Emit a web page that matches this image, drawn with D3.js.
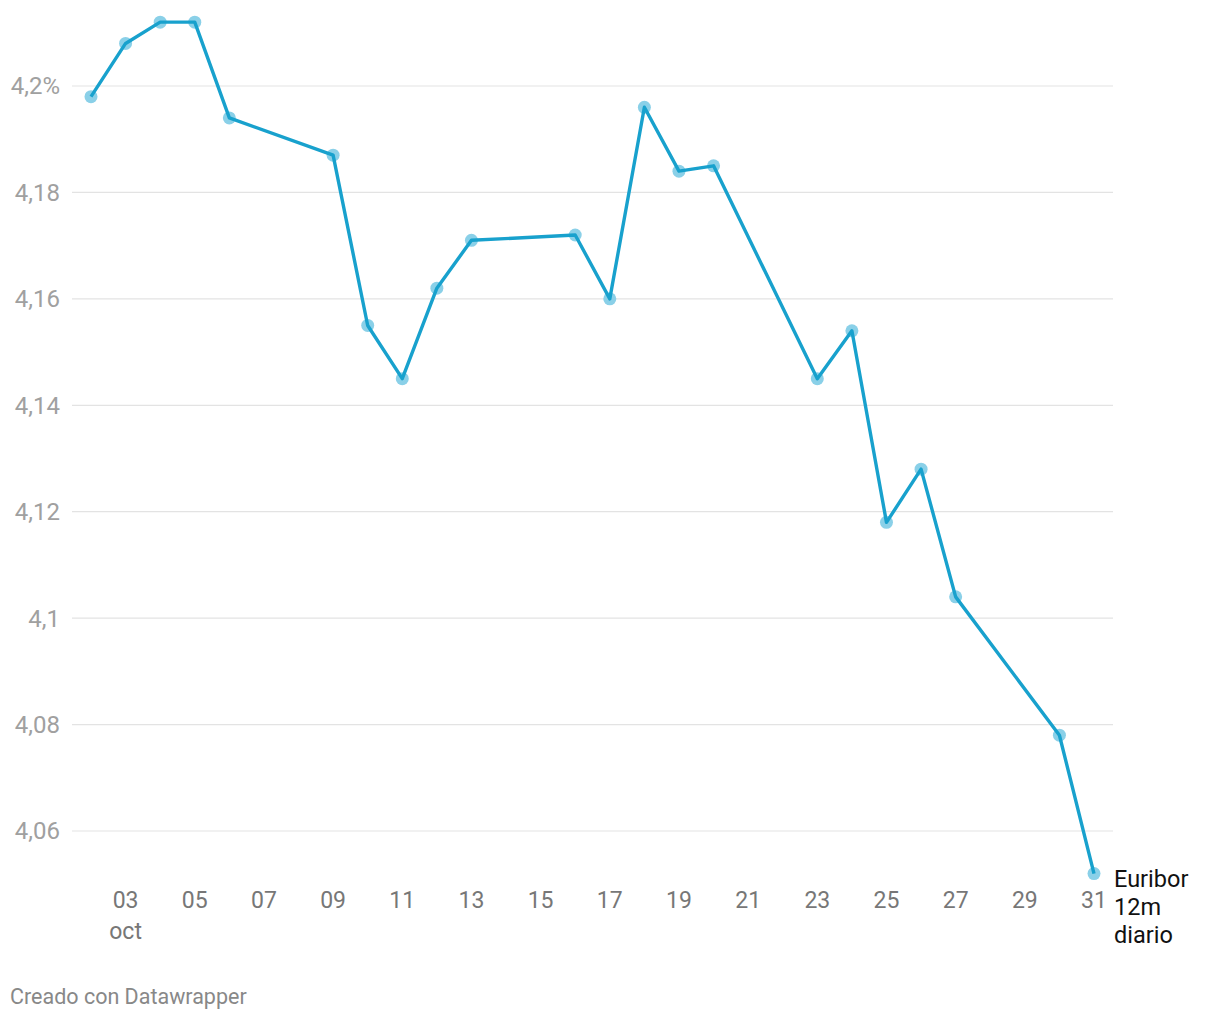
<!DOCTYPE html>
<meta charset="utf-8">
<script src="https://d3js.org/d3.v7.min.js"></script>
<style>
  body { margin: 0; background: #fff; font-family: Roboto, sans-serif; }
</style>
<svg id="chart" width="1220" height="1020"></svg>
<script>

// Euribor 12m daily, October 2023
const days = [2, 3, 4, 5, 6, 9, 10, 11, 12, 13, 16, 17, 18, 19, 20, 23, 24, 25, 26, 27, 30, 31];
const values = [4.198, 4.208, 4.212, 4.212, 4.194, 4.187, 4.155, 4.145, 4.162, 4.171, 4.172,
  4.160, 4.196, 4.184, 4.185, 4.145, 4.154, 4.118, 4.128, 4.104, 4.078, 4.052];
const yTicks = [4.06, 4.08, 4.1, 4.12, 4.14, 4.16, 4.18, 4.2];
const xTicks = [3, 5, 7, 9, 11, 13, 15, 17, 19, 21, 23, 25, 27, 29, 31];
const seriesLabel = ["Euribor", "12m", "diario"];

const svg = d3.select("#chart");

const x = d3.scaleLinear().domain([2, 31]).range([91, 1094]);
const y = d3.scaleLinear().domain([4.06, 4.2]).range([831, 86]);

// gridlines
svg.append("g")
  .selectAll("line")
  .data(yTicks)
  .join("line")
  .attr("x1", 72)
  .attr("x2", 1113)
  .attr("y1", d => y(d))
  .attr("y2", d => y(d))
  .attr("stroke", "#e3e3e3")
  .attr("stroke-width", 1.2);

// y labels
svg.append("g")
  .selectAll("text")
  .data(yTicks)
  .join("text")
  .attr("x", 60)
  .attr("y", d => y(d))
  .attr("dy", "0.35em")
  .attr("text-anchor", "end")
  .attr("fill", "#a0a0a0")
  .style("font-size", "24px")
  .text(d => d3.format(".2~f")(d).replace(".", ",") + (d === 4.2 ? "%" : ""));

// x labels
const xg = svg.append("g");
xg.selectAll("text")
  .data(xTicks)
  .join("text")
  .attr("x", d => x(d))
  .attr("y", 908)
  .attr("text-anchor", "middle")
  .attr("fill", "#777")
  .style("font-size", "23px")
  .text(d => d3.format("02")(d));
xg.append("text")
  .attr("x", x(3))
  .attr("y", 939)
  .attr("text-anchor", "middle")
  .attr("fill", "#777")
  .style("font-size", "23px")
  .text("oct");

const pts = days.map((d, i) => [d, values[i]]);

// dots
svg.append("g")
  .selectAll("circle")
  .data(pts)
  .join("circle")
  .attr("cx", d => x(d[0]))
  .attr("cy", d => y(d[1]))
  .attr("r", 6.5)
  .attr("fill", "#8ad0e8");

// line
svg.append("path")
  .datum(pts)
  .attr("fill", "none")
  .attr("stroke", "#18a1cd")
  .attr("stroke-width", 3.4)
  .attr("stroke-linejoin", "round")
  .attr("d", d3.line().x(d => x(d[0])).y(d => y(d[1])));

// series label
const last = pts[pts.length - 1];
svg.append("text")
  .attr("x", x(last[0]) + 20)
  .attr("y", y(last[1]) + 13)
  .attr("fill", "#111")
  .style("font-size", "23.5px")
  .selectAll("tspan")
  .data(seriesLabel)
  .join("tspan")
  .attr("x", x(last[0]) + 20)
  .attr("dy", (d, i) => i === 0 ? 0 : 28)
  .text(d => d);

// footer
svg.append("text")
  .attr("x", 10)
  .attr("y", 1004)
  .attr("fill", "#888")
  .style("font-size", "21.5px")
  .text("Creado con Datawrapper");

</script>
